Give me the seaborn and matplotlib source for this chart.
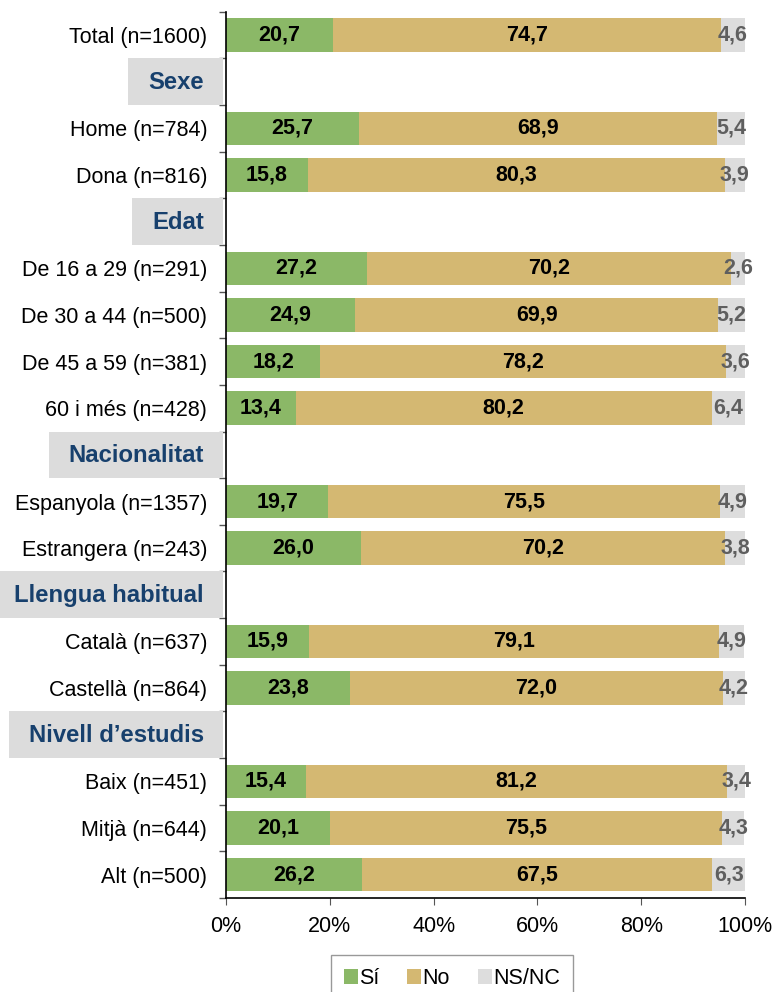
import numpy as np
import pandas as pd
import matplotlib
matplotlib.use("Agg")
import matplotlib.pyplot as plt
from matplotlib.patches import Rectangle
import seaborn as sns

# rows from top to bottom; headers have no data
rows = ["Total (n=1600)", "Sexe", "Home (n=784)", "Dona (n=816)", "Edat",
        "De 16 a 29 (n=291)", "De 30 a 44 (n=500)", "De 45 a 59 (n=381)", "60 i més (n=428)",
        "Nacionalitat", "Espanyola (n=1357)", "Estrangera (n=243)",
        "Llengua habitual", "Català (n=637)", "Castellà (n=864)",
        "Nivell d\u2019estudis", "Baix (n=451)", "Mitjà (n=644)", "Alt (n=500)"]
headers = ["Sexe", "Edat", "Nacionalitat", "Llengua habitual", "Nivell d\u2019estudis"]

groups = ["Total (n=1600)", "Home (n=784)", "Dona (n=816)",
          "De 16 a 29 (n=291)", "De 30 a 44 (n=500)", "De 45 a 59 (n=381)", "60 i més (n=428)",
          "Espanyola (n=1357)", "Estrangera (n=243)",
          "Català (n=637)", "Castellà (n=864)",
          "Baix (n=451)", "Mitjà (n=644)", "Alt (n=500)"]
si = [20.7, 25.7, 15.8, 27.2, 24.9, 18.2, 13.4, 19.7, 26.0, 15.9, 23.8, 15.4, 20.1, 26.2]
no = [74.7, 68.9, 80.3, 70.2, 69.9, 78.2, 80.2, 75.5, 70.2, 79.1, 72.0, 81.2, 75.5, 67.5]
nsnc = [4.6, 5.4, 3.9, 2.6, 5.2, 3.6, 6.4, 4.9, 3.8, 4.9, 4.2, 3.4, 4.3, 6.3]

c_si, c_no, c_ns = "#8BB867", "#D4B872", "#DDDDDD"

df = pd.DataFrame({"grup": groups, "si": si, "no": no, "nsnc": nsnc})
df["cum_no"] = df["si"] + df["no"]
df["cum_ns"] = df["cum_no"] + df["nsnc"]

plt.rcParams["font.family"] = ["Liberation Sans", "DejaVu Sans"]
fs = 15.5

fig = plt.figure(figsize=(7.74, 9.92), dpi=100)
ax = fig.add_axes([0.292, 0.0948, 0.6705, 0.8933])

sns.barplot(data=df, y="grup", x="cum_ns", order=rows, color=c_ns, width=0.72,
            saturation=1, linewidth=0, ax=ax, orient="h")
sns.barplot(data=df, y="grup", x="cum_no", order=rows, color=c_no, width=0.72,
            saturation=1, linewidth=0, ax=ax, orient="h")
sns.barplot(data=df, y="grup", x="si", order=rows, color=c_si, width=0.72,
            saturation=1, linewidth=0, ax=ax, orient="h")

ax.set_xlim(0, 100)
ax.set_ylim(len(rows) - 0.5, -0.5)
ax.set_xlabel("")
ax.set_ylabel("")
ax.set_xticks(np.arange(0, 101, 20))
ax.set_xticklabels([f"{v}%" for v in range(0, 101, 20)], fontsize=fs)
ax.set_yticks(range(len(rows)))
ax.set_yticklabels(["" if r in headers else r for r in rows], fontsize=fs)
ax.tick_params(axis="y", length=0, pad=13.5)
ax.set_yticks(np.arange(-0.5, len(rows), 1), minor=True)
ax.tick_params(axis="y", which="minor", length=5, color="#555555", width=1)
ax.tick_params(axis="x", length=5, color="#555555", pad=8)
for s in ["top", "right"]:
    ax.spines[s].set_visible(False)
ax.spines["left"].set_linewidth(1.2)
ax.spines["bottom"].set_linewidth(1.2)

# value labels
for _, r in df.iterrows():
    y = rows.index(r["grup"])
    ax.text(r["si"] / 2, y, f"{r['si']:.1f}".replace(".", ","), ha="center", va="center",
            fontsize=fs, fontweight="bold", color="black")
    ax.text(r["si"] + r["no"] / 2, y, f"{r['no']:.1f}".replace(".", ","), ha="center",
            va="center", fontsize=fs, fontweight="bold", color="black")
    ax.text(r["cum_no"] + r["nsnc"] / 2, y, f"{r['nsnc']:.1f}".replace(".", ","),
            ha="center", va="center", fontsize=fs, fontweight="bold", color="#5F5F5F",
            clip_on=False)

# section headers in grey boxes
fig.canvas.draw()
renderer = fig.canvas.get_renderer()
W, H = fig.get_size_inches() * fig.dpi
for h in headers:
    y = rows.index(h)
    t = fig.text(204 / W, 0, h, ha="right", va="center", fontsize=17.2,
                 fontweight="bold", color="#17406D", zorder=5)
    yc = ax.transData.transform((0, y))[1]
    t.set_y((yc - 1) / H)
    bb = t.get_window_extent(renderer)
    y0 = ax.transData.transform((0, y + 0.5))[1]
    y1 = ax.transData.transform((0, y - 0.5))[1]
    x0 = bb.x0 - 20
    x1 = 223
    fig.add_artist(Rectangle((x0 / W, y0 / H), (x1 - x0) / W, (y1 - y0) / H,
                             transform=fig.transFigure, facecolor="#DCDCDC",
                             edgecolor="none", zorder=4))

handles = [Rectangle((0, 0), 1, 1, facecolor=c, edgecolor="none") for c in (c_si, c_no, c_ns)]
leg = fig.legend(handles, ["Sí", "No", "NS/NC"], loc="upper center",
                 bbox_to_anchor=(452 / W, 1 - 955 / H), borderaxespad=0, ncol=3,
                 fontsize=fs, frameon=True, fancybox=False, edgecolor="#808080",
                 handlelength=0.65, handleheight=0.65, handletextpad=0.05,
                 columnspacing=1.3, borderpad=0.6)
leg.get_frame().set_linewidth(1)

fig.savefig("out.png", dpi=100)
